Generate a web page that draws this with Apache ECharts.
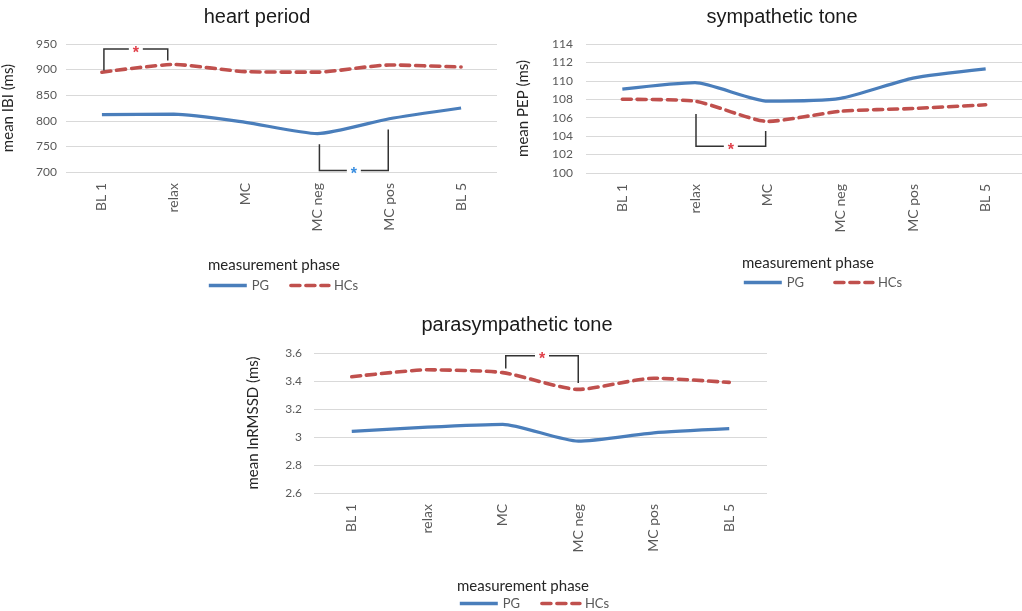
<!DOCTYPE html>
<html>
<head>
<meta charset="utf-8">
<script src="https://cdn.jsdelivr.net/npm/echarts@6/dist/echarts.min.js"></script>
<style>
html,body{margin:0;padding:0;background:#fff;}
#c{width:1022px;height:611px;}
</style>
</head>
<body>
<div id="c"></div>
<script>
// ---- data ----
const categories = ['BL 1', 'relax', 'MC', 'MC neg', 'MC pos', 'BL 5'];
const heartPG = [812, 813, 797, 775, 804, 825];
const heartHC = [895, 910, 896, 895, 909, 905];
const sympPG = [109.1, 109.8, 107.8, 108.1, 110.3, 111.3];
const sympHC = [108.0, 107.8, 105.6, 106.7, 107.0, 107.4];
const paraPG = [3.04, 3.07, 3.09, 2.97, 3.03, 3.06];
const paraHC = [3.43, 3.48, 3.46, 3.34, 3.42, 3.39];
const heartAxis = [700, 950, 50];   // min, max, interval
const sympAxis = [100, 114, 2];
const paraAxis = [2.6, 3.6, 0.2];
const seriesNames = ['PG', 'HCs'];
const titles = ['heart period', 'sympathetic tone', 'parasympathetic tone'];
const yNames = ['mean IBI (ms)', 'mean PEP (ms)', 'mean lnRMSSD (ms)'];
const xName = 'measurement phase';

// ---- style ----
const BLUE = '#4a7ebb';
const RED = '#c0504d';
const LABEL = '#595959';
const DARK = '#262626';
const FONT = 'Lato';

const grids = [
  {left: 66, right: 525, top: 44, bottom: 439},
  {left: 586, right: -11, top: 44, bottom: 438},
  {left: 314, right: 255, top: 353, bottom: 118}
];
const axes = [heartAxis, sympAxis, paraAxis];
const nameGaps = [50, 55, 53];
const labelMargins = [9, 13, 12];

const xAxis = grids.map((g, i) => ({
  type: 'category', gridIndex: i, data: categories, boundaryGap: true,
  axisLine: {show: false}, axisTick: {show: false},
  axisLabel: {rotate: 90, margin: 11, color: LABEL, fontFamily: FONT, fontSize: 14}
}));
const yAxis = grids.map((g, i) => ({
  type: 'value', gridIndex: i, min: axes[i][0], max: axes[i][1], interval: axes[i][2],
  name: yNames[i], nameLocation: 'middle', nameGap: nameGaps[i],
  nameTextStyle: {color: DARK, fontFamily: FONT, fontSize: 15},
  axisLine: {show: false}, axisTick: {show: false},
  axisLabel: {color: LABEL, fontFamily: FONT, fontSize: 12, margin: labelMargins[i]},
  splitLine: {lineStyle: {color: '#d9d9d9', width: 1}}
}));

const pgData = [heartPG, sympPG, paraPG];
const hcData = [heartHC, sympHC, paraHC];
const series = [];
for (let i = 0; i < 3; i++) {
  series.push({
    name: seriesNames[0], type: 'line', xAxisIndex: i, yAxisIndex: i, data: pgData[i],
    symbol: 'none', smooth: 0.2, lineStyle: {color: BLUE, width: 3.2}, itemStyle: {color: BLUE}
  });
  series.push({
    name: seriesNames[1], type: 'line', xAxisIndex: i, yAxisIndex: i, data: hcData[i],
    symbol: 'none', smooth: 0.2,
    lineStyle: {color: RED, width: 3.6, type: [9, 6], cap: 'round'}, itemStyle: {color: RED}
  });
}

const legendPos = [
  {left: 207, top: 279, itemGap: 20},
  {left: 742, top: 276, itemGap: 29},
  {left: 458, top: 597, itemGap: 20}
];
const legend = legendPos.map(p => ({
  data: seriesNames, left: p.left, top: p.top, itemGap: p.itemGap, padding: 0,
  itemWidth: 38, itemHeight: 14, selectedMode: false,
  lineStyle: {width: 3.6},
  itemStyle: {color: 'rgba(0,0,0,0)', borderColor: 'rgba(0,0,0,0)', borderWidth: 0},
  textStyle: {color: LABEL, fontFamily: FONT, fontSize: 13}
}));

const titlePos = [[257, 17], [782, 17], [517, 325]];
const xNamePos = [[274, 265], [808, 263], [523, 586]];
const texts = [];
titlePos.forEach((p, i) => texts.push({
  type: 'text', x: p[0], y: p[1],
  style: {text: titles[i], fill: '#1a1a1a', font: '20px "Liberation Sans"', textAlign: 'center', textVerticalAlign: 'middle'}
}));
xNamePos.forEach(p => texts.push({
  type: 'text', x: p[0], y: p[1],
  style: {text: xName, fill: DARK, font: '15px ' + FONT, textAlign: 'center', textVerticalAlign: 'middle'}
}));

const chart = echarts.init(document.getElementById('c'), null, {renderer: 'canvas'});
chart.setOption({
  backgroundColor: '#fff',
  animation: false,
  grid: grids,
  xAxis: xAxis,
  yAxis: yAxis,
  legend: legend,
  series: series,
  graphic: texts
});

// ---- significance brackets (data coordinates) ----
// [grid, catA, catB, valueA(leg A end), valueB(leg B end), valueBar, starColor, dxA, dxB]
const brackets = [
  [0, 0, 1, 898, 918, 940, '#e0404a', 2, -6],
  [0, 3, 4, 754, 783, 703, '#3a8ee0', 2, -1],
  [1, 1, 2, 106.4, 104.55, 102.9, '#e0404a', 1, -2],
  [2, 2, 3, 3.49, 3.385, 3.58, '#e0404a', 3, 0]
];
const extra = [];
brackets.forEach(b => {
  const pA = chart.convertToPixel({gridIndex: b[0]}, [b[1], b[3]]);
  const pB = chart.convertToPixel({gridIndex: b[0]}, [b[2], b[4]]);
  const yBar = chart.convertToPixel({gridIndex: b[0]}, [b[1], b[5]])[1];
  const xA = pA[0] + b[7], xB = pB[0] + b[8];
  extra.push({
    type: 'polyline', silent: true, z: 10,
    shape: {points: [[xA, pA[1]], [xA, yBar], [xB, yBar], [xB, pB[1]]]},
    style: {stroke: '#333', lineWidth: 1.5, fill: null}
  });
  extra.push({
    type: 'rect', silent: true, z: 11,
    shape: {x: (xA + xB) / 2 - 7, y: yBar - 3, width: 14, height: 6},
    style: {fill: '#fff'}
  });
  extra.push({
    type: 'text', silent: true, z: 12, x: (xA + xB) / 2, y: yBar + 4,
    style: {text: '*', fill: b[6], font: 'bold 16px "Liberation Sans"', textAlign: 'center', textVerticalAlign: 'middle'}
  });
});
chart.setOption({graphic: texts.concat(extra)});
</script>
</body>
</html>
